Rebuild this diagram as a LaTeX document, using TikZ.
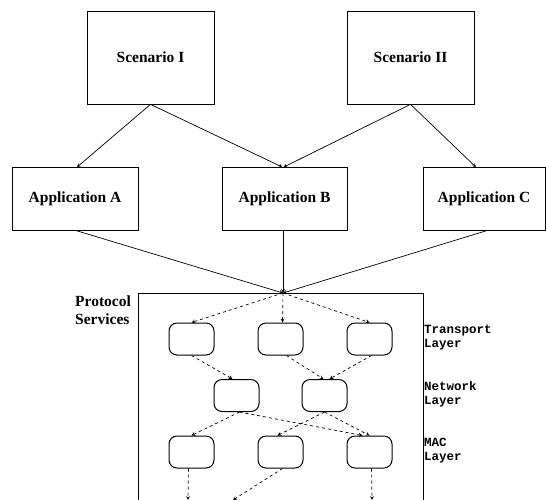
\documentclass[tikz,border=0pt]{standalone}
\usepackage{fontspec}
\setmainfont{Liberation Serif}
\setmonofont{Liberation Mono}
\usepackage{tikz}
\usetikzlibrary{arrows}
\tikzstyle{box} = [draw, rectangle, line width=0.7pt, font=\fontsize{15.5}{18}\selectfont\bfseries]
\tikzstyle{layerbox} = [draw, rectangle, rounded corners=8pt, line width=1pt, minimum width=45pt, minimum height=32pt]
\tikzstyle{arrow} = [line width=0.7pt,->,>=stealth]
\tikzstyle{darrow} = [line width=0.7pt,dashed,->,>=stealth]
\tikzstyle{layername} = [anchor=west, align=left, inner sep=1pt, font=\fontsize{12.5}{14}\selectfont\ttfamily\bfseries]

\begin{document}
\begin{tikzpicture}[x=1pt,y=-1pt]
	\useasboundingbox (0,0) rectangle (546,499);
	\clip (0,0) rectangle (546,499);
	
	% Scenarios:
	\node[box, minimum width=127pt, minimum height=93pt] (scen1) at (150.5,57.5) {Scenario I};
	\node[box, minimum width=127pt, minimum height=93pt] (scen2) at (410.5,57.5) {Scenario II};
	
	% Applications:
	\node[box, minimum width=126pt, minimum height=63pt] (appA) at (75,199) {Application A};
	\node[box, minimum width=125pt, minimum height=63pt] (appB) at (284.5,199) {Application B};
	\node[box, minimum width=122pt, minimum height=63pt] (appC) at (484,199) {Application C};
	
	\draw[arrow] (scen1.south) -- ([xshift=2pt]appA.north);
	\draw[arrow] (scen1.south) -- ([xshift=-2pt]appB.north);
	\draw[arrow] (scen2.south) -- ([xshift=-1pt]appB.north);
	\draw[arrow] (scen2.south) -- ([xshift=-8pt]appC.north);
	
	% Protocol services:
	\draw[line width=0.7pt] (138,293) rectangle (423,520);
	\coordinate (top) at (283,293);
	\node[anchor=north west, align=left, inner sep=0pt, font=\fontsize{15.5}{18}\selectfont\bfseries] (proto) at (75,296) {Protocol\\Services};
	
	\draw[arrow] ([xshift=2pt]appA.south) -- (top);
	\draw[arrow] (appB.south -| top) -- (top);
	\draw[arrow] ([xshift=2pt]appC.south) -- (top);
	
	% Layers:
	\node[layerbox] (t1) at (191.5,339) {};
	\node[layerbox] (t2) at (280.5,339) {};
	\node[layerbox] (t3) at (369.5,339) {};
	\node[layerbox] (n1) at (236.5,395.5) {};
	\node[layerbox] (n2) at (324.5,395.5) {};
	\node[layerbox] (m1) at (191.5,452) {};
	\node[layerbox] (m2) at (280.5,452) {};
	\node[layerbox] (m3) at (369.5,452) {};
	
	\node[layername] (tl) at (423,338) {Transport\\Layer};
	\node[layername] (nl) at (423,394) {Network\\Layer};
	\node[layername] (ml) at (423,450.5) {MAC\\Layer};
	
	\coordinate (out1) at (188,500);
	\coordinate (out2) at (233,500);
	\coordinate (out3) at (372,500);
	
	\begin{scope}[darrow]
		\draw (top) -- (t1.north);
		\draw (top) -- ([xshift=2pt]t2.north);
		\draw (top) -- (t3.north);
		\draw (t1.south) -- ([xshift=-4pt]n1.north);
		\draw ([xshift=6pt]t2.south) -- ([xshift=-1pt]n2.north);
		\draw ([xshift=2pt]t3.south) -- ([xshift=5pt]n2.north);
		\draw ([xshift=3pt]n1.south) -- (m1.north);
		\draw ([xshift=3pt]n1.south) -- ([xshift=-7pt]m3.north);
		\draw (n2.south) -- ([xshift=-3pt]m2.north);
		\draw (n2.south) -- (m3.north);
		\draw ([xshift=-3pt]m1.south) -- (out1);
		\draw ([xshift=2pt]m2.south) -- (out2);
		\draw ([xshift=2pt]m3.south) -- (out3);
	\end{scope}
\end{tikzpicture}
\end{document}
